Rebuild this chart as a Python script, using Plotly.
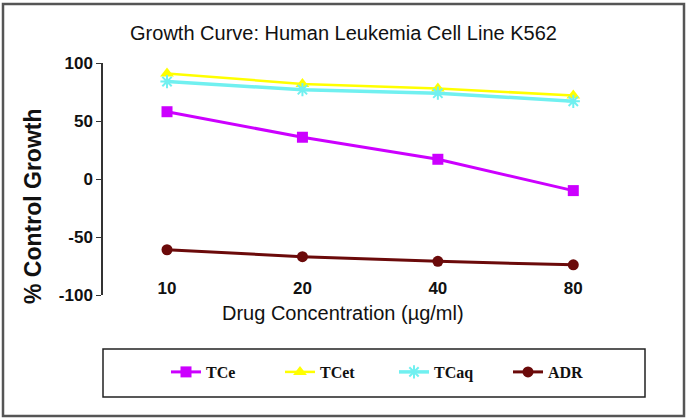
import plotly.graph_objects as go

concentrations = ["10", "20", "40", "80"]
tce = [58, 36, 17, -10]
tcet = [91, 82, 78, 72]
tcaq = [84, 77, 74, 67]
adr = [-61, -67, -71, -74]
y_ticks = [-100, -50, 0, 50, 100]
y_tick_labels = ["-100", "-50", "0", "50", "100"]

W, H = 688, 420
ML, MR, MT, MB = 102, 47, 63, 125
PW = W - ML - MR
PH = H - MT - MB

def px_x(p):
    return (p - ML) / PW

def px_y(p):
    return (H - MB - p) / PH

NARROW = "Liberation Sans Narrow, Arial Narrow, Liberation Sans, sans-serif"

fig = go.Figure()
fig.add_trace(go.Scatter(x=concentrations, y=tce, name="TCe", mode="lines+markers",
                         line=dict(color="#CC00FF", width=3),
                         marker=dict(symbol="square", size=11, color="#CC00FF")))
fig.add_trace(go.Scatter(x=concentrations, y=tcet, name="TCet", mode="lines+markers",
                         line=dict(color="#FFFF00", width=2.5),
                         marker=dict(symbol="triangle-up", size=12, color="#FFFF00")))
fig.add_trace(go.Scatter(x=concentrations, y=tcaq, name="TCaq", mode="lines+markers",
                         line=dict(color="#70F0F0", width=3.5),
                         marker=dict(symbol="asterisk-open", size=11,
                                     line=dict(color="#70F0F0", width=2))))
fig.add_trace(go.Scatter(x=concentrations, y=adr, name="ADR", mode="lines+markers",
                         line=dict(color="#6B0A0A", width=3),
                         marker=dict(symbol="circle", size=11, color="#6B0A0A")))

fig.update_layout(
    width=W, height=H,
    margin=dict(l=ML, r=MR, t=MT, b=MB),
    paper_bgcolor="white", plot_bgcolor="white",
    showlegend=True,
    title=dict(text="Growth Curve: Human Leukemia Cell Line K562",
               x=343.5 / W, xanchor="center", y=1 - 33 / H, yanchor="middle",
               font=dict(family=NARROW, size=20, color="#111")),
    xaxis=dict(type="category", range=[-0.48, 3.5], showgrid=False, zeroline=False,
               showline=False, ticks="", anchor="free", position=0.08,
               tickfont=dict(family=NARROW, size=17, color="#111", weight="bold")),
    yaxis=dict(range=[-100, 100], tickvals=y_ticks, ticktext=y_tick_labels,
               showgrid=False, zeroline=False,
               showline=True, linecolor="#333", linewidth=1.5, ticks="outside",
               ticklen=5, tickcolor="#333", anchor="free", position=0,
               tickfont=dict(family=NARROW, size=17, color="#111", weight="bold")),
    legend=dict(orientation="h", x=px_x(166), xanchor="left", y=px_y(372), yanchor="middle",
                entrywidth=69, entrywidthmode="pixels",
                font=dict(family="Liberation Serif, Times New Roman, serif", size=16,
                          color="#111", weight="bold"),
                bgcolor="rgba(0,0,0,0)", borderwidth=0),
)

fig.add_annotation(text="% Control Growth", xref="paper", yref="paper",
                   x=px_x(33), y=px_y(207), textangle=-90, showarrow=False,
                   xanchor="center", yanchor="middle",
                   font=dict(family="Liberation Sans, Arial, sans-serif", size=23,
                             color="#111", weight="bold"))
fig.add_annotation(text="Drug Concentration (µg/ml)", xref="paper", yref="paper",
                   x=px_x(343), y=px_y(313), showarrow=False,
                   xanchor="center", yanchor="middle",
                   font=dict(family=NARROW, size=20, color="#111"))

fig.add_shape(type="rect", xref="paper", yref="paper",
              x0=px_x(103), x1=px_x(645), y0=px_y(397), y1=px_y(349),
              line=dict(color="#222", width=1.5))
fig.add_shape(type="rect", xref="paper", yref="paper",
              x0=px_x(3), x1=px_x(684), y0=px_y(416), y1=px_y(4),
              line=dict(color="#555", width=2.5))

fig.write_html("out.html", config={"displayModeBar": False},
               post_script="document.body.style.margin='0';")
